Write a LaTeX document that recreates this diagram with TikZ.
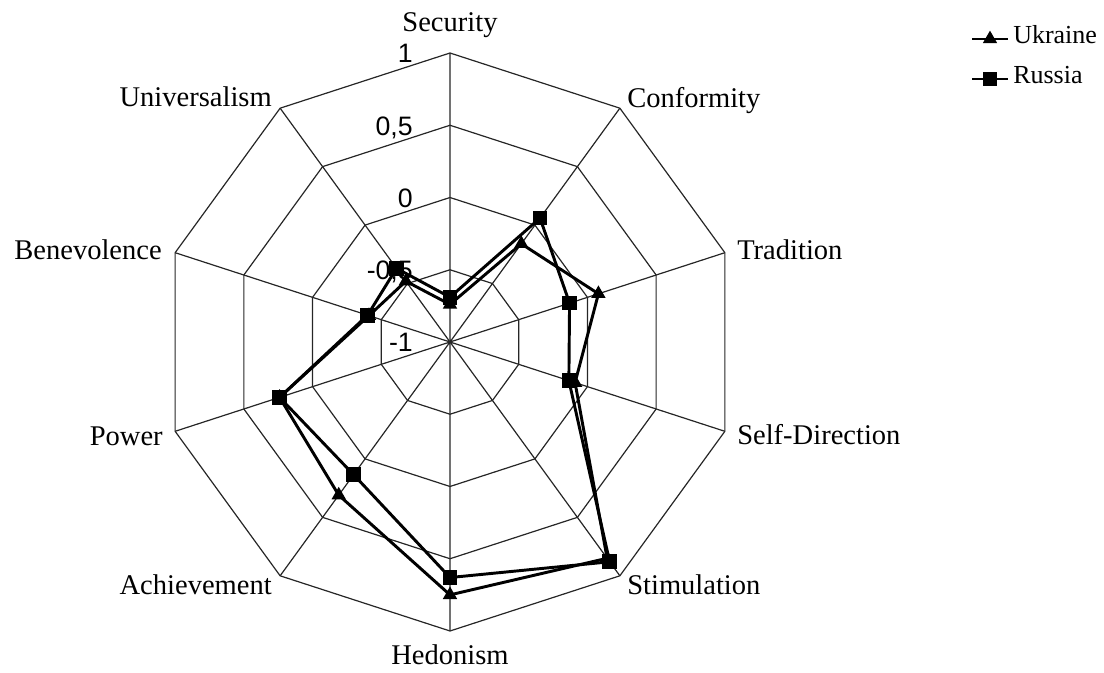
\documentclass[tikz,border=0pt]{standalone}
\usepackage{fontspec}
\setmainfont{Liberation Serif}
\newfontfamily\ticksans{Liberation Sans}
\usetikzlibrary{shapes.geometric}

\tikzset{
  gridline/.style={line width=0.9pt, black!85},
  serieline/.style={line width=2.2pt, line join=round},
  sqmark/.style={rectangle, fill=black, inner sep=0pt, minimum size=11pt},
  trimark/.style={regular polygon, regular polygon sides=3, fill=black, inner sep=0pt, minimum size=12.5pt},
  axislabel/.style={inner sep=0pt, text height=0.66em, text depth=0pt, font=\fontsize{21.4}{24}\selectfont},
  ticklabel/.style={anchor=east, inner sep=0pt, text height=0.72em, text depth=0pt, font=\ticksans\fontsize{20}{22}\selectfont},
  legendlabel/.style={anchor=west, inner sep=0pt, text height=0.66em, text depth=0pt, font=\fontsize{19.5}{22}\selectfont}
}

\begin{document}
\begin{tikzpicture}[x=0.75pt, y=0.75pt]
        \useasboundingbox (0,0) rectangle (1104,672);

        \begin{scope}[shift={(450,330)}]
          % rings at -0.5, 0, 0.5 and 1
          \draw [gridline] (90:72.25) -- (54:72.25) -- (18:72.25) -- (-18:72.25) -- (-54:72.25) -- (-90:72.25) -- (-126:72.25) -- (-162:72.25) -- (162:72.25) -- (126:72.25) -- cycle;
          \draw [gridline] (90:144.5) -- (54:144.5) -- (18:144.5) -- (-18:144.5) -- (-54:144.5) -- (-90:144.5) -- (-126:144.5) -- (-162:144.5) -- (162:144.5) -- (126:144.5) -- cycle;
          \draw [gridline] (90:216.75) -- (54:216.75) -- (18:216.75) -- (-18:216.75) -- (-54:216.75) -- (-90:216.75) -- (-126:216.75) -- (-162:216.75) -- (162:216.75) -- (126:216.75) -- cycle;
          \draw [gridline] (90:289) -- (54:289) -- (18:289) -- (-18:289) -- (-54:289) -- (-90:289) -- (-126:289) -- (-162:289) -- (162:289) -- (126:289) -- cycle;

          % spokes
          \coordinate (o) at (0,0);
          \draw [gridline] (o) -- (90:289) (o) -- (54:289) (o) -- (18:289) (o) -- (-18:289) (o) -- (-54:289);
          \draw [gridline] (o) -- (-90:289) (o) -- (-126:289) (o) -- (-162:289) (o) -- (162:289) (o) -- (126:289);

          % scale
          \node [ticklabel] (tick1) at (-37,284) {1};
          \node [ticklabel] (tick05) at (-37,211.75) {0,5};
          \node [ticklabel] (tick0) at (-37,139.5) {0};
          \node [ticklabel] (tickm05) at (-37,67.25) {-0,5};
          \node [ticklabel] (tickm1) at (-37,-5) {-1};

          % Ukraine
          \coordinate (ua1) at (90:{(1-0.74)*144.5});
          \coordinate (ua2) at (54:{(1-0.16)*144.5});
          \coordinate (ua3) at (18:{(1+0.08)*144.5});
          \coordinate (ua4) at (-18:{(1-0.09)*144.5});
          \coordinate (ua5) at (-54:{(1+0.85)*144.5});
          \coordinate (ua6) at (-90:{(1+0.75)*144.5});
          \coordinate (ua7) at (-126:{(1+0.31)*144.5});
          \coordinate (ua8) at (-162:{(1+0.24)*144.5});
          \coordinate (ua9) at (162:{(1-0.41)*144.5});
          \coordinate (ua10) at (126:{(1-0.48)*144.5});
          \draw [serieline] (ua1) -- (ua2) -- (ua3) -- (ua4) -- (ua5) -- (ua6) -- (ua7) -- (ua8) -- (ua9) -- (ua10) -- cycle;
          \node [trimark] (uam1) at (ua1) {};
          \node [trimark] (uam2) at (ua2) {};
          \node [trimark] (uam3) at (ua3) {};
          \node [trimark] (uam4) at (ua4) {};
          \node [trimark] (uam5) at (ua5) {};
          \node [trimark] (uam6) at (ua6) {};
          \node [trimark] (uam7) at (ua7) {};
          \node [trimark] (uam8) at (ua8) {};
          \node [trimark] (uam9) at (ua9) {};
          \node [trimark] (uam10) at (ua10) {};

          % Russia
          \coordinate (ru1) at (90:{(1-0.69)*144.5});
          \coordinate (ru2) at (54:{(1+0.06)*144.5});
          \coordinate (ru3) at (18:{(1-0.13)*144.5});
          \coordinate (ru4) at (-18:{(1-0.135)*144.5});
          \coordinate (ru5) at (-54:{(1+0.88)*144.5});
          \coordinate (ru6) at (-90:{(1+0.63)*144.5});
          \coordinate (ru7) at (-126:{(1+0.135)*144.5});
          \coordinate (ru8) at (-162:{(1+0.24)*144.5});
          \coordinate (ru9) at (162:{(1-0.40)*144.5});
          \coordinate (ru10) at (126:{(1-0.37)*144.5});
          \draw [serieline] (ru1) -- (ru2) -- (ru3) -- (ru4) -- (ru5) -- (ru6) -- (ru7) -- (ru8) -- (ru9) -- (ru10) -- cycle;
          \node [sqmark] (rum1) at (ru1) {};
          \node [sqmark] (rum2) at (ru2) {};
          \node [sqmark] (rum3) at (ru3) {};
          \node [sqmark] (rum4) at (ru4) {};
          \node [sqmark] (rum5) at (ru5) {};
          \node [sqmark] (rum6) at (ru6) {};
          \node [sqmark] (rum7) at (ru7) {};
          \node [sqmark] (rum8) at (ru8) {};
          \node [sqmark] (rum9) at (ru9) {};
          \node [sqmark] (rum10) at (ru10) {};
        \end{scope}

        % axis names
        \node [axislabel] (security) at (450,645) {Security};
        \node [axislabel, anchor=west] (conformity) at (627,569) {Conformity};
        \node [axislabel, anchor=west] (tradition) at (737,417) {Tradition};
        \node [axislabel, anchor=west] (selfdir) at (737,232) {Self-Direction};
        \node [axislabel, anchor=west] (stimulation) at (627,82) {Stimulation};
        \node [axislabel] (hedonism) at (450,12) {Hedonism};
        \node [axislabel, anchor=east] (achievement) at (272,82) {Achievement};
        \node [axislabel, anchor=east] (power) at (163,231) {Power};
        \node [axislabel, anchor=east] (benevolence) at (162,417) {Benevolence};
        \node [axislabel, anchor=east] (universalism) at (272,570) {Universalism};

        % legend
        \coordinate (uk-a) at (972,633);
        \coordinate (uk-b) at (1008,633);
        \draw [line width=1.6pt] (uk-a) -- (uk-b);
        \node [trimark] (uk-m) at (990,633) {};
        \node [legendlabel] (uk-t) at (1013,633) {Ukraine};
        \coordinate (ru-a) at (972,593);
        \coordinate (ru-b) at (1008,593);
        \draw [line width=1.6pt] (ru-a) -- (ru-b);
        \node [sqmark] (ru-m) at (990,593) {};
        \node [legendlabel] (ru-t) at (1013,593) {Russia};
\end{tikzpicture}
\end{document}
